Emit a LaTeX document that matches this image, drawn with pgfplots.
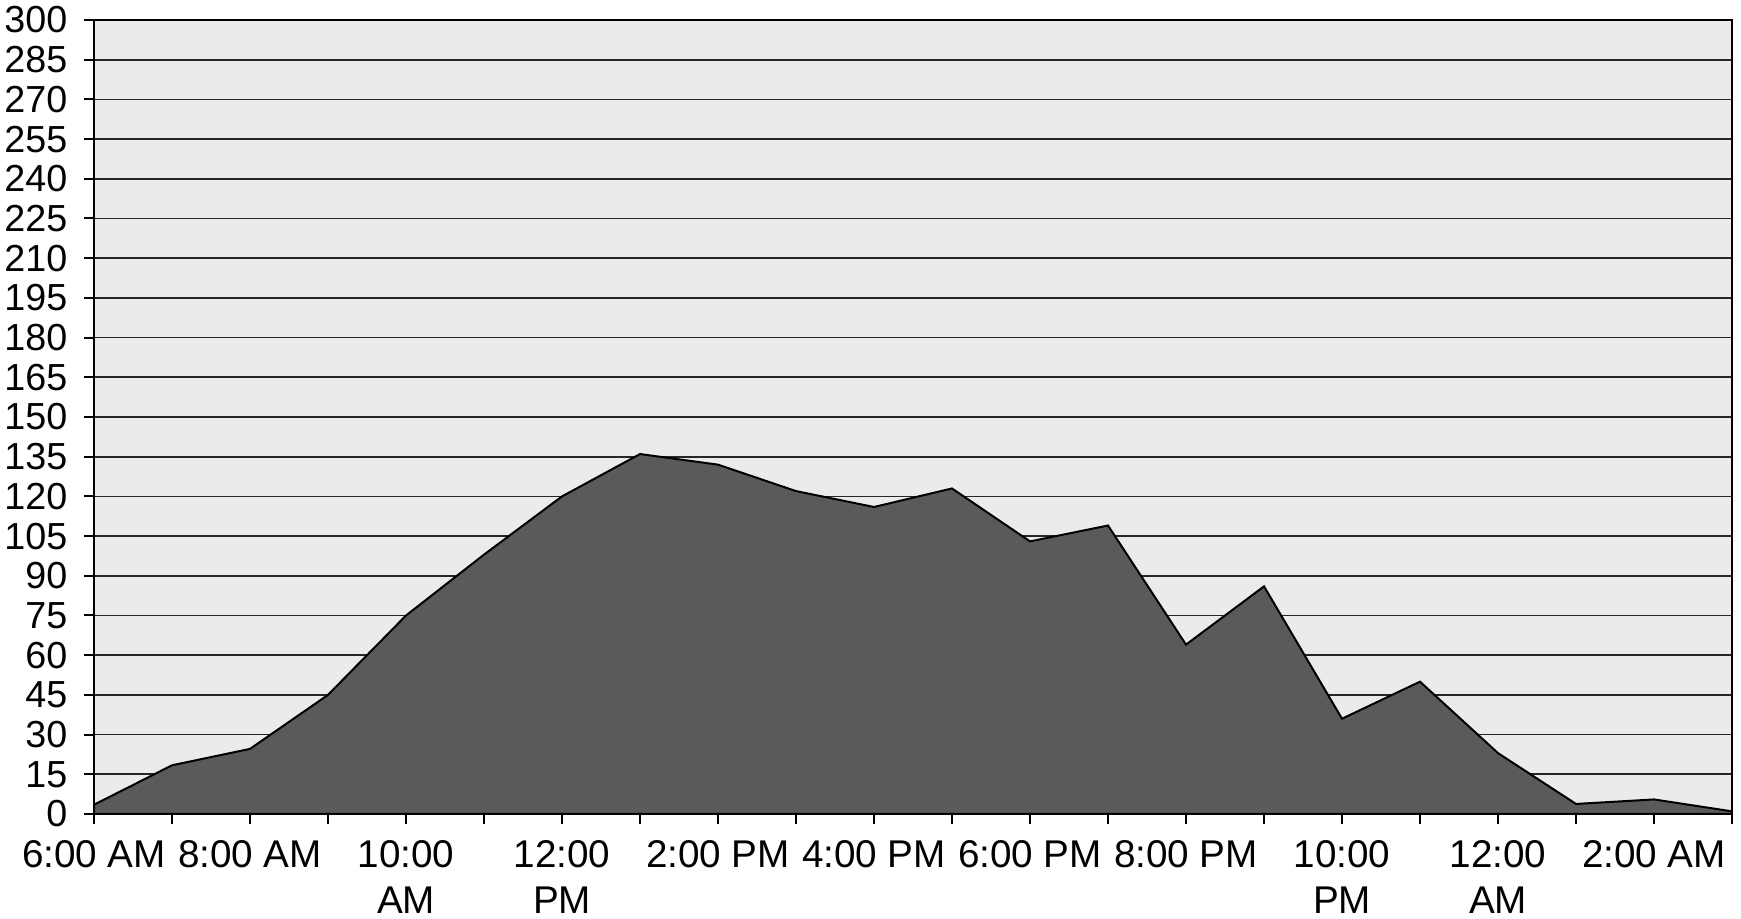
\documentclass[border=0pt]{standalone}
\usepackage{fontspec}
\setmainfont{Liberation Sans}
\usepackage{pgfplots}
\pgfplotsset{compat=1.18}
\definecolor{bgc}{HTML}{EBEBEB}
\definecolor{areac}{HTML}{5A5A5A}
\begin{document}
\begin{tikzpicture}
\begin{axis}[
  name=ax,
  scale only axis, width=491.4pt, height=238.2pt,
  xmin=0, xmax=21, ymin=0, ymax=300,
  axis background/.style={fill=bgc},
  ytick={0,15,...,300},
  ymajorgrids, grid style={black!85, line width=0.5pt},
  xtick={0,2,...,20}, minor xtick={1,3,...,21},
  xticklabels={6:00 AM,8:00 AM,10:00\\AM,12:00\\PM,2:00 PM,4:00 PM,6:00 PM,8:00 PM,10:00\\PM,12:00\\AM,2:00 AM},
  xticklabel style={align=center, font=\fontsize{11.6}{13.6}\selectfont, yshift=-1.5pt},
  yticklabel style={font=\fontsize{11.3}{13}\selectfont, xshift=-1.5pt},
  tick align=outside, tick pos=left,
  major tick length=3pt, minor tick length=3pt,
  every tick/.style={black, line width=0.6pt},
  axis line style={black, line width=0.7pt},
  /pgf/number format/assume math mode=true,
]
\addplot[fill=areac, draw=black, line width=0.6pt] coordinates {
 (0,3.5) (1,18.4) (2,24.6) (3,45) (4,75) (5,98) (6,120) (7,136)
 (8,132) (9,122) (10,116) (11,123) (12,103) (13,109) (14,64) (15,86)
 (16,36) (17,50) (18,23) (19,3.8) (20,5.5) (21,1)
} \closedcycle;
\end{axis}
\pgfresetboundingbox
\path ([xshift=-28.2pt,yshift=-31.5pt]ax.south west) rectangle ([xshift=2.7pt,yshift=6pt]ax.north east);
\end{tikzpicture}
\end{document}
